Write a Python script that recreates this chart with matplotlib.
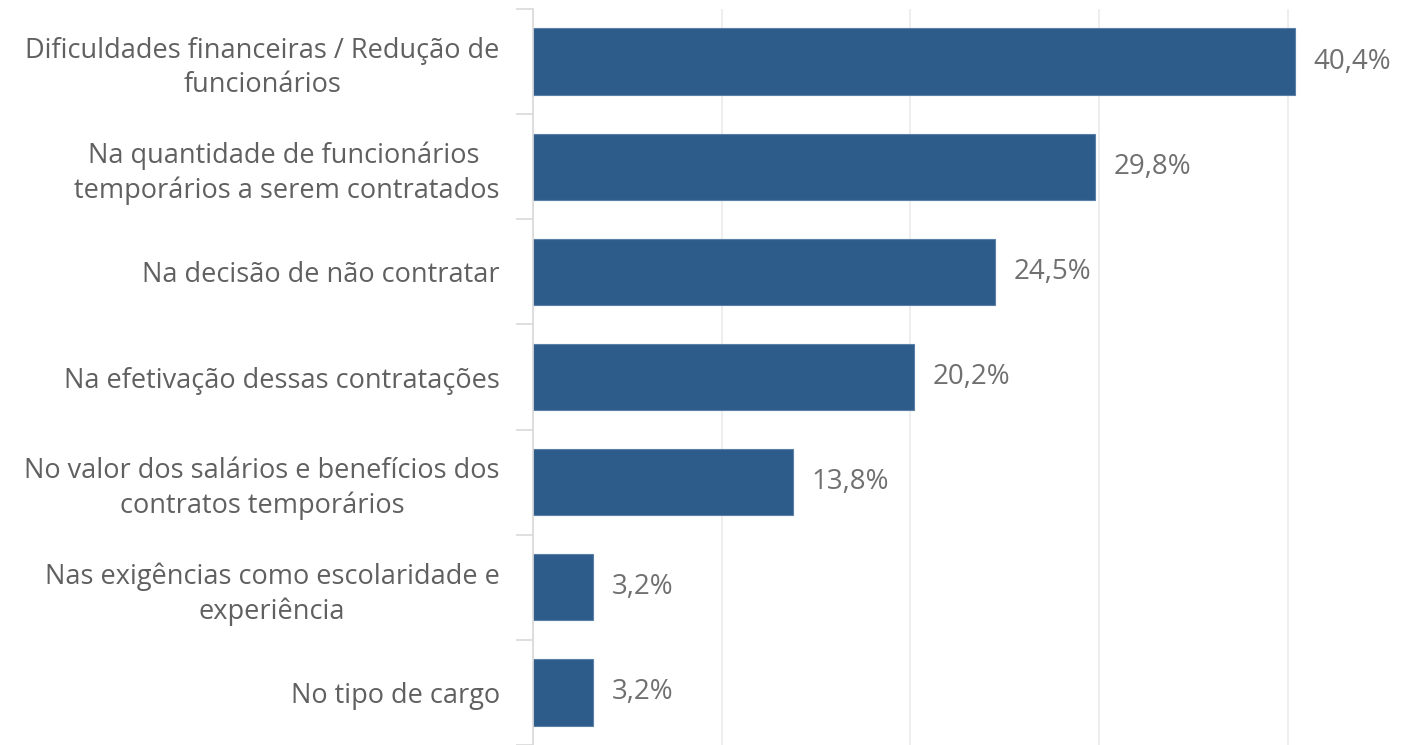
import matplotlib.pyplot as plt
from matplotlib.ticker import FixedLocator, NullFormatter

categorias = [
    'Dificuldades financeiras / Redução de\nfuncionários',
    'Na quantidade de funcionários \ntemporários a serem contratados',
    'Na decisão de não contratar',
    'Na efetivação dessas contratações',
    'No valor dos salários e benefícios dos\ncontratos temporários',
    'Nas exigências como escolaridade e\nexperiência',
    'No tipo de cargo',
]
valores = [40.4, 29.8, 24.5, 20.2, 13.8, 3.2, 3.2]
rotulos = ['40,4%', '29,8%', '24,5%', '20,2%', '13,8%', '3,2%', '3,2%']

plt.rcParams['font.family'] = ['Open Sans', 'DejaVu Sans']

fig = plt.figure(figsize=(14.02, 7.45), dpi=100)
ax = fig.add_axes([533 / 1402, 0.0, 849 / 1402, 736 / 745])

y = list(range(len(categorias)))
ax.barh(y, valores, height=0.63, color='#2e5c8a', edgecolor='#5b80a8', linewidth=0.8, zorder=3)

for yi, v, txt in zip(y, valores, rotulos):
    ax.annotate(txt, (v, yi), xytext=(13, 0), textcoords='offset points',
                ha='left', va='center', fontsize=20, color='#707070')

ax.set_ylim(len(categorias) - 0.5, -0.5)
ax.set_xlim(0, 45)

ax.set_yticks(y)
ax.set_yticklabels(categorias, fontsize=19.5, color='#606060', ha='right',
                   multialignment='center', linespacing=1.3)
ax.tick_params(axis='y', which='major', length=0, pad=24)
ax.yaxis.set_minor_locator(FixedLocator([i - 0.5 for i in range(len(categorias) + 1)]))
ax.yaxis.set_minor_formatter(NullFormatter())
ax.tick_params(axis='y', which='minor', length=12, width=1.2, color='#d9d9d9')

ax.set_xticks([0, 10, 20, 30, 40])
ax.set_xticklabels([])
ax.tick_params(axis='x', length=0)
ax.grid(axis='x', color='#ebebeb', linewidth=1.2, zorder=0)

for s in ['top', 'right', 'bottom']:
    ax.spines[s].set_visible(False)
ax.spines['left'].set_color('#d9d9d9')
ax.spines['left'].set_linewidth(1.2)
ax.spines['left'].set_zorder(4)

fig.savefig('out.png', dpi=100)
